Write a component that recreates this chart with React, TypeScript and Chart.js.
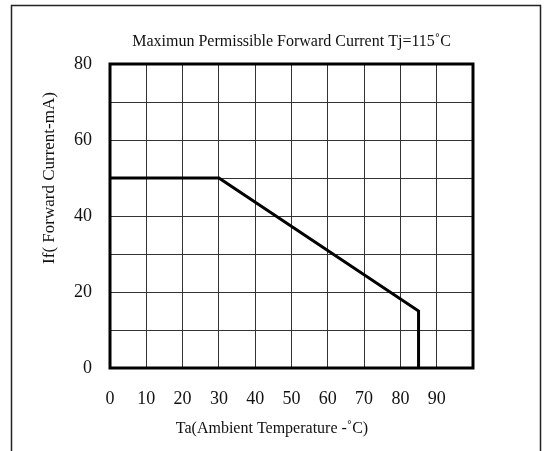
import React, { useEffect, useRef } from "react";
import { Chart, registerables } from "chart.js";

Chart.register(...registerables);

const chartTitle = "Maximun Permissible Forward Current Tj=115˚C";
const xAxisTitle = "Ta(Ambient Temperature -˚C)";
const yAxisTitle = "If( Forward Current-mA)";

const tempC = [0, 30, 85, 85];
const currentMA = [50, 50, 15, 0];

const xMin = 0;
const xMax = 100;
const xStep = 10;
const yMin = 0;
const yMax = 80;
const yStep = 10;
const yLabelStep = 20;
const xHiddenLabels = [100];

const FONT = "'Liberation Serif', 'Times New Roman', serif";

const decorPlugin = {
  id: "decor",
  beforeDraw(chart: any) {
    const { ctx } = chart;
    ctx.save();
    ctx.fillStyle = "#ffffff";
    ctx.fillRect(0, 0, chart.width, chart.height);
    ctx.strokeStyle = "#222";
    ctx.lineWidth = 1.5;
    ctx.beginPath();
    ctx.moveTo(11.5, chart.height + 2);
    ctx.lineTo(11.5, 5.5);
    ctx.lineTo(540.5, 5.5);
    ctx.lineTo(540.5, chart.height + 2);
    ctx.stroke();
    ctx.restore();
  },
  afterDraw(chart: any) {
    const { ctx, chartArea } = chart;
    ctx.save();
    ctx.strokeStyle = "#000";
    ctx.lineWidth = 3;
    ctx.strokeRect(chartArea.left, chartArea.top, chartArea.right - chartArea.left, chartArea.bottom - chartArea.top);
    ctx.fillStyle = "#111";
    ctx.textAlign = "center";
    ctx.textBaseline = "middle";
    ctx.font = `16px ${FONT}`;
    ctx.fillText(chartTitle, (chartArea.left + chartArea.right) / 2, 42);
    ctx.fillText(xAxisTitle, 272, 429);
    ctx.font = `17px ${FONT}`;
    ctx.translate(50, 178);
    ctx.rotate(-Math.PI / 2);
    ctx.fillText(yAxisTitle, 0, 0);
    ctx.restore();
  },
};

export default function App() {
  const ref = useRef<HTMLCanvasElement | null>(null);
  useEffect(() => {
    if (!ref.current) return;
    const data = tempC.map((x, i) => ({ x, y: currentMA[i] }));
    const chart = new Chart(ref.current, {
      type: "scatter",
      data: {
        datasets: [
          {
            data,
            showLine: true,
            borderColor: "#000",
            borderWidth: 3,
            pointRadius: 0,
            tension: 0,
            fill: false,
          },
        ],
      },
      options: {
        responsive: false,
        animation: false,
        layout: { padding: { left: 20, top: 64, right: 71, bottom: 0 } },
        plugins: { legend: { display: false }, tooltip: { enabled: false }, title: { display: false } },
        scales: {
          x: {
            type: "linear",
            min: xMin,
            max: xMax,
            afterFit: (s: any) => {
              s.height = 83;
            },
            grid: { color: "#333", lineWidth: 1, drawTicks: false },
            border: { display: false },
            ticks: {
              stepSize: xStep,
              padding: 20,
              color: "#111",
              font: { family: FONT, size: 18 },
              maxRotation: 0,
              autoSkip: false,
              callback: (v: any) => (xHiddenLabels.includes(v) ? "" : String(v)),
            },
          },
          y: {
            type: "linear",
            min: yMin,
            max: yMax,
            afterFit: (s: any) => {
              s.width = 90;
            },
            grid: { color: "#333", lineWidth: 1, drawTicks: false },
            border: { display: false },
            ticks: {
              stepSize: yStep,
              padding: 18,
              color: "#111",
              font: { family: FONT, size: 18 },
              autoSkip: false,
              callback: (v: any) => (v % yLabelStep === 0 ? String(v) : ""),
            },
          },
        },
      },
      plugins: [decorPlugin],
    });
    return () => chart.destroy();
  }, []);
  return (
    <div style={{ position: "fixed", left: 0, top: 0, width: 544, height: 451, background: "#fff" }}>
      <canvas ref={ref} width={544} height={451} style={{ width: 544, height: 451, display: "block" }} />
    </div>
  );
}
